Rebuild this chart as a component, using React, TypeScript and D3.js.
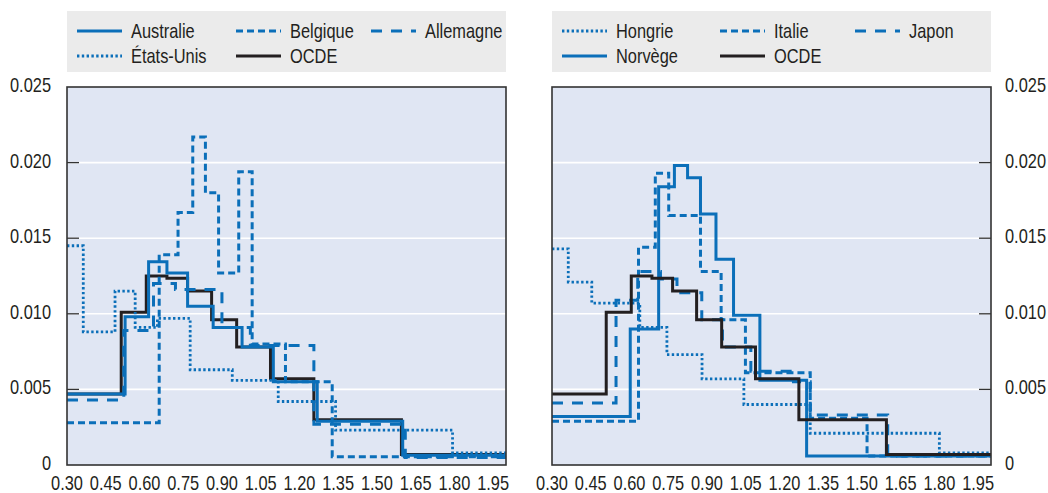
import React from "react";
import * as d3 from "d3";

type Pt = [number, number];

const xTicks = [0.3, 0.45, 0.6, 0.75, 0.9, 1.05, 1.2, 1.35, 1.5, 1.65, 1.8, 1.95];
const yTicks = [0, 0.005, 0.01, 0.015, 0.02, 0.025];
const yTickLabels = ["0", "0.005", "0.010", "0.015", "0.020", "0.025"];
const xDomain: [number, number] = [0.3, 2.0];
const yDomain: [number, number] = [0, 0.025];

// Step breakpoints [x, value from x onwards]
const ocde: Pt[] = [[0.3, 0.0047], [0.51, 0.0101], [0.607, 0.0125], [0.687, 0.01235], [0.767, 0.0115], [0.86, 0.0096], [0.957, 0.0078], [1.088, 0.0057], [1.256, 0.003], [1.595, 0.0007]];
const australie: Pt[] = [[0.3, 0.0047], [0.525, 0.0098], [0.616, 0.01345], [0.687, 0.0127], [0.767, 0.0105], [0.866, 0.0091], [0.978, 0.0078], [1.099, 0.0055], [1.269, 0.0029], [1.6, 0.00065]];
const belgique: Pt[] = [[0.3, 0.0028], [0.657, 0.0139], [0.73, 0.0167], [0.787, 0.0217], [0.836, 0.018], [0.887, 0.0127], [0.965, 0.0194], [1.017, 0.008], [1.146, 0.0055], [1.327, 0.00055]];
const allemagne: Pt[] = [[0.3, 0.0043], [0.52, 0.0089], [0.635, 0.012], [0.72, 0.0116], [0.9, 0.0091], [1.01, 0.0079], [1.256, 0.0027], [1.61, 0.0005]];
const etatsUnis: Pt[] = [[0.3, 0.0145], [0.363, 0.0088], [0.486, 0.0115], [0.564, 0.0091], [0.65, 0.0097], [0.777, 0.0063], [0.94, 0.0056], [1.118, 0.0042], [1.34, 0.0023], [1.793, 0.0008]];

const hongrie: Pt[] = [[0.3, 0.0143], [0.363, 0.0121], [0.454, 0.0107], [0.64, 0.0091], [0.745, 0.0073], [0.881, 0.0057], [1.043, 0.004], [1.3, 0.0021], [1.8, 0.0008]];
const italie: Pt[] = [[0.3, 0.0029], [0.635, 0.0144], [0.7, 0.0193], [0.752, 0.0165], [0.875, 0.0128], [0.955, 0.0096], [1.049, 0.0061], [1.3, 0.0031], [1.52, 0.0006]];
const japon: Pt[] = [[0.3, 0.0041], [0.548, 0.0109], [0.632, 0.0128], [0.72, 0.0123], [0.784, 0.0114], [0.88, 0.0096], [0.96, 0.0078], [1.07, 0.0062], [1.235, 0.0055], [1.3, 0.0033], [1.6, 0.0006]];
const norvege: Pt[] = [[0.3, 0.0032], [0.603, 0.009], [0.713, 0.0184], [0.774, 0.0198], [0.825, 0.019], [0.875, 0.0166], [0.935, 0.0136], [1.003, 0.0099], [1.105, 0.0056], [1.286, 0.0006]];

const BLUE = "#0b6fb9";
const BLACK = "#231f20";
const TEXT = "#231f20";
const FONT = "'Liberation Sans', Arial, sans-serif";
const FS = 20;
const NARROW = 0.82;

type Style = { color: string; dash?: string; width: number };
const SOLID: Style = { color: BLUE, width: 3 };
const SHORT: Style = { color: BLUE, dash: "7,4", width: 3 };
const LONG: Style = { color: BLUE, dash: "11,9", width: 3 };
const DOT: Style = { color: BLUE, dash: "2.4,2.4", width: 2.8 };
const OCDE_S: Style = { color: BLACK, width: 3 };

type Series = { name: string; data: Pt[]; style: Style };

const leftSeries: Series[] = [
  { name: "Australie", data: australie, style: SOLID },
  { name: "Belgique", data: belgique, style: SHORT },
  { name: "Allemagne", data: allemagne, style: LONG },
  { name: "États-Unis", data: etatsUnis, style: DOT },
  { name: "OCDE", data: ocde, style: OCDE_S },
];
const leftDrawOrder = ["OCDE", "États-Unis", "Belgique", "Allemagne", "Australie"];

const rightSeries: Series[] = [
  { name: "Hongrie", data: hongrie, style: DOT },
  { name: "Italie", data: italie, style: SHORT },
  { name: "Japon", data: japon, style: LONG },
  { name: "Norvège", data: norvege, style: SOLID },
  { name: "OCDE", data: ocde, style: OCDE_S },
];
const rightDrawOrder = ["Hongrie", "Italie", "Japon", "Norvège", "OCDE"];

const PLOT_TOP = 87;
const PLOT_BOTTOM = 465;
const PLOT_W = 439;

function NText({ x, y, anchor = "start", dy, children }: { x: number; y: number; anchor?: "start" | "middle" | "end"; dy?: string; children: React.ReactNode }) {
  return (
    <text transform={`translate(${x},${y}) scale(${NARROW},1)`} textAnchor={anchor} dy={dy} fontSize={FS} fontFamily={FONT} fill={TEXT}>
      {children}
    </text>
  );
}

function Legend({ x, series, cols }: { x: number; series: Series[]; cols: number[] }) {
  const rows = [31, 56];
  return (
    <g>
      <rect x={x} y={11} width={PLOT_W} height={61} fill="#ebebeb" />
      {series.map((s, i) => {
        const col = i % 3;
        const row = Math.floor(i / 3);
        const lx = x + cols[col];
        const ly = rows[row];
        return (
          <g key={s.name}>
            <line x1={lx} x2={lx + 45} y1={ly} y2={ly} stroke={s.style.color} strokeWidth={s.style.width} strokeDasharray={s.style.dash} />
            <NText x={lx + 54} y={ly} dy="0.35em">{s.name}</NText>
          </g>
        );
      })}
    </g>
  );
}

function Panel({ x0, series, order, side, cols }: { x0: number; series: Series[]; order: string[]; side: "left" | "right"; cols: number[] }) {
  const xs = d3.scaleLinear().domain(xDomain).range([x0, x0 + PLOT_W]);
  const ys = d3.scaleLinear().domain(yDomain).range([PLOT_BOTTOM, PLOT_TOP]);
  const line = d3.line<Pt>().x((d) => xs(d[0])).y((d) => ys(d[1])).curve(d3.curveStepAfter);
  const sorted = order.map((n) => series.find((s) => s.name === n)!);
  const clipId = "clip-" + side;
  return (
    <g>
      <Legend x={x0} series={series} cols={cols} />
      <defs>
        <clipPath id={clipId}>
          <rect x={x0} y={PLOT_TOP} width={PLOT_W} height={PLOT_BOTTOM - PLOT_TOP} />
        </clipPath>
      </defs>
      <rect x={x0} y={PLOT_TOP} width={PLOT_W} height={PLOT_BOTTOM - PLOT_TOP} fill="#e0e6f3" />
      {yTicks.slice(1, -1).map((t) => (
        <line key={t} x1={x0} x2={x0 + PLOT_W} y1={ys(t)} y2={ys(t)} stroke="#ffffff" strokeWidth={1.6} />
      ))}
      {yTicks.slice(1, -1).map((t) => (
        side === "left" ? (
          <line key={"tk" + t} x1={x0} x2={x0 + 12} y1={ys(t)} y2={ys(t)} stroke="#333" strokeWidth={1.3} />
        ) : (
          <line key={"tk" + t} x1={x0 + PLOT_W - 12} x2={x0 + PLOT_W} y1={ys(t)} y2={ys(t)} stroke="#333" strokeWidth={1.3} />
        )
      ))}
      <g clipPath={`url(#${clipId})`}>
        {sorted.map((s) => {
          const last = s.data[s.data.length - 1];
          const pts: Pt[] = [...s.data, [xDomain[1], last[1]]];
          return (
            <path key={s.name} d={line(pts) || ""} fill="none" stroke={s.style.color} strokeWidth={s.style.width} strokeDasharray={s.style.dash} strokeLinejoin="miter" />
          );
        })}
      </g>
      <rect x={x0} y={PLOT_TOP} width={PLOT_W} height={PLOT_BOTTOM - PLOT_TOP} fill="none" stroke="#333" strokeWidth={1.6} />
      {xTicks.map((t) => (
        <NText key={"x" + t} x={xs(t)} y={489.5} anchor="middle">{t.toFixed(2)}</NText>
      ))}
      {yTicks.map((t, i) => (
        <NText key={"y" + t} x={side === "left" ? x0 - 16 : x0 + PLOT_W + 14} y={ys(t) - 2} dy="0.35em" anchor={side === "left" ? "end" : "start"}>{yTickLabels[i]}</NText>
      ))}
    </g>
  );
}

export default function App() {
  return (
    <svg width={1048} height={493} style={{ position: "absolute", left: 0, top: 0, background: "#fff" }}>
      <rect x={0} y={0} width={1048} height={493} fill="#fff" />
      <Panel x0={67} series={leftSeries} order={leftDrawOrder} side="left" cols={[10, 169, 304]} />
      <Panel x0={552} series={rightSeries} order={rightDrawOrder} side="right" cols={[10, 168, 303]} />
    </svg>
  );
}
